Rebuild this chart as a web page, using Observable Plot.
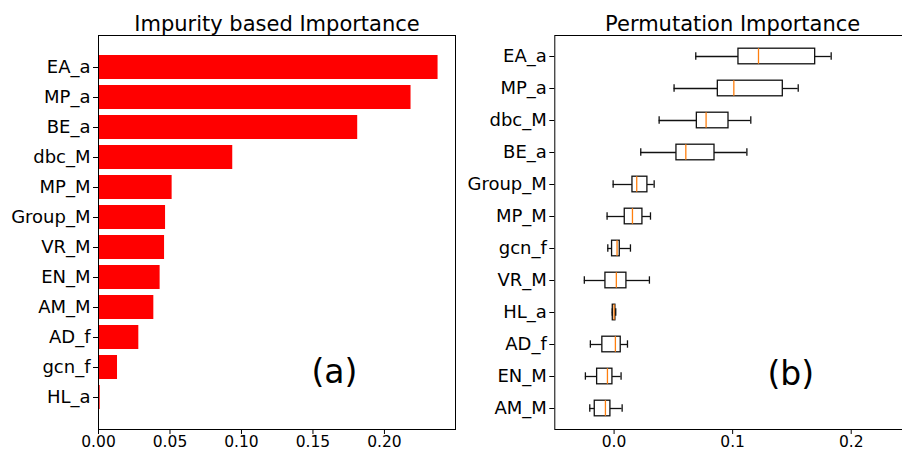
<!DOCTYPE html>
<html><head><meta charset="utf-8">
<script src="https://cdn.jsdelivr.net/npm/d3@7"></script>
<script src="https://cdn.jsdelivr.net/npm/@observablehq/plot@0.6"></script>
<style>
html,body{margin:0;padding:0;background:#fff;overflow:hidden;}
#wrap{position:relative;width:902px;height:451px;overflow:hidden;background:#fff;}
#left{position:absolute;left:0;top:0;width:460px;height:451px;}
#right{position:absolute;left:460px;top:0;width:460px;height:451px;}
#wrap svg{max-width:none !important;width:460px !important;height:451px !important;display:block;}
</style></head><body><div id="wrap"><div id="left"></div><div id="right"></div></div>
<script>
// ---- Panel (a): impurity based importance ----
const impurityTitle = "Impurity based Importance";
const impurityFeatures = ["EA_a","MP_a","BE_a","dbc_M","MP_M","Group_M","VR_M","EN_M","AM_M","AD_f","gcn_f","HL_a"];
const impurityValues = [0.2375,0.2186,0.1813,0.0939,0.0515,0.0469,0.0462,0.0431,0.0387,0.0282,0.0133,0.0012];
const impurityTicks = [0, 0.05, 0.10, 0.15, 0.20];

// ---- Panel (b): permutation importance (box plots) ----
const permTitle = "Permutation Importance";
const permFeatures = ["EA_a","MP_a","dbc_M","BE_a","Group_M","MP_M","gcn_f","VR_M","HL_a","AD_f","EN_M","AM_M"];
const permWhiskerLow  = [0.0689,0.0506,0.0380,0.0225,-0.0008,-0.0059,-0.0053,-0.0251,-0.0015,-0.0200,-0.0242,-0.0205];
const permQ1          = [0.1049,0.0875,0.0698,0.0526,0.0155,0.0090,-0.0017,-0.0073,-0.0011,-0.0099,-0.0143,-0.0163];
const permMedian      = [0.1218,0.1010,0.0776,0.0605,0.0191,0.0155,0.0025,0.0019,0.0000,0.0011,-0.0056,-0.0073];
const permQ3          = [0.1696,0.1423,0.0965,0.0847,0.0281,0.0239,0.0048,0.0104,0.0011,0.0056,-0.0014,-0.0031];
const permWhiskerHigh = [0.1831,0.1553,0.1153,0.1120,0.0338,0.0307,0.0138,0.0298,0.0014,0.0113,0.0059,0.0068];
const permTicks = [0, 0.1, 0.2];

const panelLabels = ["(a)", "(b)"];

const impData = impurityFeatures.map((name, i) => ({name, value: impurityValues[i]}));
const permData = permFeatures.map((name, i) => ({
  name, wl: permWhiskerLow[i], q1: permQ1[i], med: permMedian[i], q3: permQ3[i], wh: permWhiskerHigh[i]
}));

const font = "DejaVu Sans";
const style = {fontFamily: font, background: "transparent", color: "black", overflow: "visible"};

const left = Plot.plot({
  width: 460, height: 451,
  marginLeft: 98, marginRight: 5, marginTop: 35, marginBottom: 22,
  style,
  x: {domain: [0, 0.2497], label: null},
  y: {domain: impurityFeatures, paddingInner: 0.2, paddingOuter: 0.59, label: null},
  marks: [
    Plot.barX(impData, {x: "value", y: "name", fill: "#ff0000"}),
    Plot.frame({stroke: "black", strokeWidth: 1}),
    Plot.axisX({ticks: impurityTicks, tickFormat: d3.format(".2f"), tickSize: 5, tickPadding: 1.5, fontSize: 15.5, label: null}),
    Plot.axisY({tickSize: 5, tickPadding: 3, fontSize: 18, label: null}),
    Plot.text([impurityTitle], {frameAnchor: "top", lineAnchor: "bottom", dy: -5, fontSize: 21, text: d => d}),
    Plot.text([panelLabels[0]], {x: () => 0.165, y: () => "gcn_f", dy: 5, fontSize: 33, text: d => d})
  ]
});
document.getElementById("left").appendChild(left);

const right = Plot.plot({
  width: 460, height: 451,
  marginLeft: 94.3, marginRight: 10, marginTop: 35, marginBottom: 22,
  style,
  x: {domain: [-0.05, 0.25], label: null},
  y: {domain: permFeatures, padding: 0, label: null},
  marks: [
    Plot.ruleY(permData, {y: "name", x1: "wl", x2: "q1", stroke: "#111", strokeWidth: 1.3}),
    Plot.ruleY(permData, {y: "name", x1: "q3", x2: "wh", stroke: "#111", strokeWidth: 1.3}),
    Plot.barX(permData, {y: "name", x1: "q1", x2: "q3", fill: "white", stroke: "#111", strokeWidth: 1.3, insetTop: 8.2, insetBottom: 8.2}),
    Plot.tickX(permData, {y: "name", x: "med", stroke: "#ff7f0e", strokeWidth: 1.3, insetTop: 8.2, insetBottom: 8.2}),
    Plot.tickX(permData, {y: "name", x: "wl", stroke: "#111", strokeWidth: 1.3, insetTop: 12.3, insetBottom: 12.3}),
    Plot.tickX(permData, {y: "name", x: "wh", stroke: "#111", strokeWidth: 1.3, insetTop: 12.3, insetBottom: 12.3}),
    Plot.frame({stroke: "black", strokeWidth: 1}),
    Plot.axisX({ticks: permTicks, tickFormat: d3.format(".1f"), tickSize: 5, tickPadding: 1.5, fontSize: 15.5, label: null}),
    Plot.axisY({tickSize: 5, tickPadding: 3, fontSize: 18, label: null}),
    Plot.text([permTitle], {frameAnchor: "top", lineAnchor: "bottom", dy: -5, fontSize: 21, text: d => d}),
    Plot.text([panelLabels[1]], {x: () => 0.149, y: () => "EN_M", dy: -2, fontSize: 33, text: d => d})
  ]
});
document.getElementById("right").appendChild(right);
</script>
</body></html>
